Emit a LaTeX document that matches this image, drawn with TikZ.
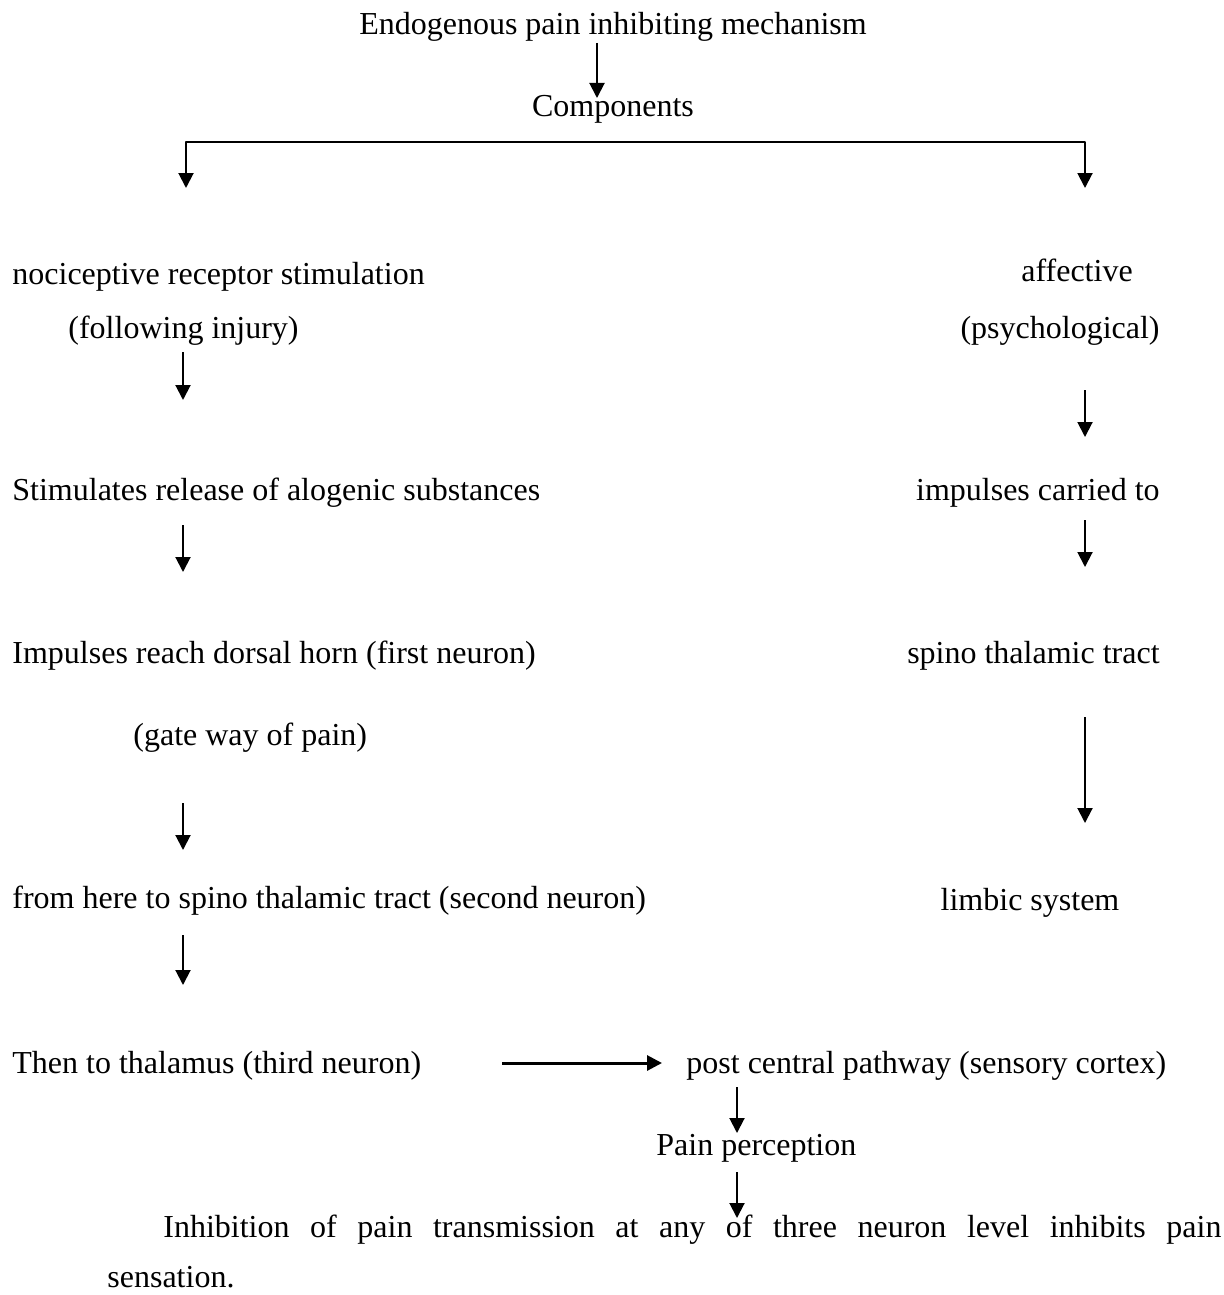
\documentclass[tikz,border=0pt]{standalone}
\usepackage{fontspec}
\setmainfont{Liberation Serif}
\usetikzlibrary{arrows.meta}

\begin{document}
\begin{tikzpicture}[x=0.5pt,y=-0.5pt,line join=round,
    >={Triangle[width=7.5pt,length=7.5pt]},
    txt/.style={inner sep=0pt,font=\fontsize{16}{20}\selectfont},
    arr/.style={->,line width=1pt}]
  \useasboundingbox (0,0) rectangle (1223,1295);
  % Title
  \node[txt,anchor=base] (endo) at (613,35) {Endogenous pain inhibiting mechanism};
  \node[txt,anchor=base] (comp) at (613,117) {Components};
  % Left column
  \node[txt,anchor=base west] (noci) at (12,284) {nociceptive receptor stimulation};
  \node[txt,anchor=base west] (foll) at (68,338) {(following injury)};
  \node[txt,anchor=base west] (stim) at (12,500) {Stimulates release of alogenic substances};
  \node[txt,anchor=base west] (dors) at (12,663) {Impulses reach dorsal horn (first neuron)};
  \node[txt,anchor=base west] (gate) at (133,745) {(gate way of pain)};
  \node[txt,anchor=base west] (from) at (12,908) {from here to spino thalamic tract (second neuron)};
  \node[txt,anchor=base west] (then) at (12,1073) {Then to thalamus (third neuron)};
  % Right column
  \node[txt,anchor=base] (aff) at (1077,281) {affective};
  \node[txt,anchor=base east] (psy) at (1160,338) {(psychological)};
  \node[txt,anchor=base east] (imp) at (1160,500) {impulses carried to};
  \node[txt,anchor=base east] (spin) at (1160,663) {spino thalamic tract};
  \node[txt,anchor=base] (limb) at (1030,910) {limbic system};
  % Bottom
  \node[txt,anchor=base west] (post) at (686,1073) {post central pathway (sensory cortex)};
  \node[txt,anchor=base west] (pain) at (656,1155) {Pain perception};
  \node[txt,anchor=base west] (inh) at (163,1237)
    {\makebox[529pt][s]{Inhibition of pain transmission at any of three neuron level inhibits pain}};
  \node[txt,anchor=base west] (sens) at (107,1287) {sensation.};
  % Arrows
  \foreach \n/\x/\ya/\yb in {t/597/43/98, l1/183/352/400, l2/183/525/572,
      l3/183/803/850, l4/183/935/985, r1/1085/390/437, r2/1085/520/567,
      r3/1085/717/823, p1/737/1087/1133, p2/737/1172/1218}{
    \coordinate (\n s) at (\x,\ya);
    \coordinate (\n e) at (\x,\yb);
    \draw[arr] (\n s) -- (\n e);
  }
  \coordinate (hs) at (502,1063);
  \coordinate (he) at (662,1063);
  \draw[arr,line width=1.5pt] (hs) -- (he);
  % Branch
  \coordinate (bl) at (186,188);
  \coordinate (bm) at (613,142);
  \coordinate (br) at (1085,188);
  \draw[<->,line width=1pt] (bl) |- (bm) -| (br);
\end{tikzpicture}
\end{document}
